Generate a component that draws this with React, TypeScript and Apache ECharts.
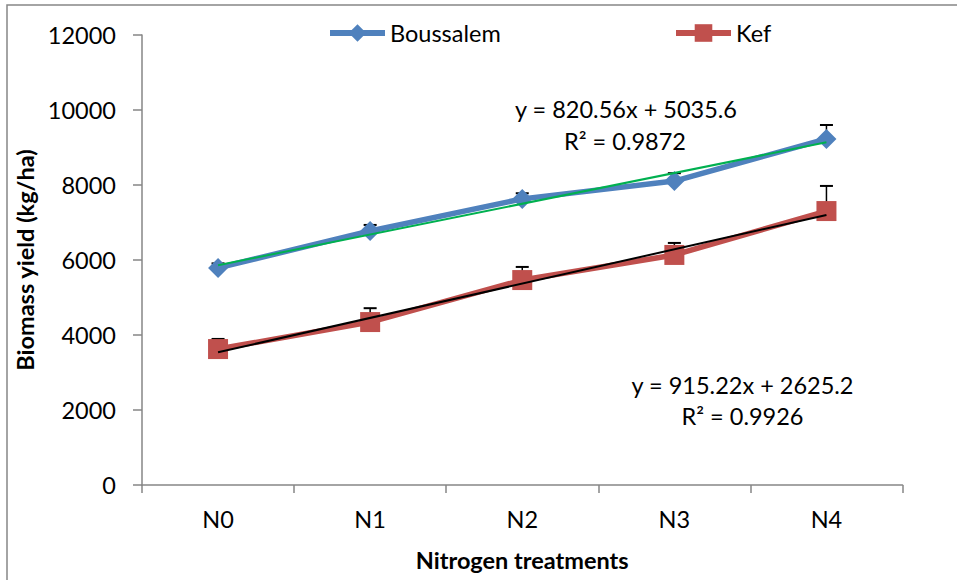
import React, { useEffect, useRef } from "react";
import * as echarts from "echarts";

const categories = ["N0", "N1", "N2", "N3", "N4"];
const boussalem = [5790, 6775, 7630, 8105, 9230];
const boussalemErr = [120, 160, 150, 210, 370];
const kef = [3625, 4345, 5465, 6135, 7305];
const kefErr = [270, 370, 350, 320, 670];
const boussalemTrend = [5860, null, null, null, 9140];
const kefTrend = [3540, null, null, null, 7200];
const yTicks = { min: 0, max: 12000, interval: 2000 };
const eq1 = ["y = 820.56x + 5035.6", "R² = 0.9872"];
const eq2 = ["y = 915.22x + 2625.2", "R² = 0.9926"];

const FONT = "Lato, 'Open Sans', sans-serif";
const FS = 23.5;
const BLUE = "#4F81BD";
const RED = "#C0504D";
const GREEN = "#00B050";
const AXIS = "#868686";

function errorSeries(values: number[], errs: number[]) {
  return {
    type: "custom",
    z: 1,
    silent: true,
    data: values.map((v, i) => [i, v, v + errs[i]]),
    renderItem: (params: any, api: any) => {
      const lo = api.coord([api.value(0), api.value(1)]);
      const hi = api.coord([api.value(0), api.value(2)]);
      const half = 6.5;
      return {
        type: "group",
        children: [
          { type: "line", shape: { x1: lo[0], y1: lo[1], x2: hi[0], y2: hi[1] }, style: { stroke: "#000", lineWidth: 1.5 } },
          { type: "line", shape: { x1: hi[0] - half, y1: hi[1], x2: hi[0] + half, y2: hi[1] }, style: { stroke: "#000", lineWidth: 2 } },
        ],
      };
    },
  };
}

export default function App() {
  const ref = useRef<HTMLDivElement>(null);
  useEffect(() => {
    document.body.style.margin = "0";
    const chart = echarts.init(ref.current!, null, { renderer: "svg" });
    const textStyle = { fontFamily: FONT, fontSize: FS, color: "#000" };
    const legendCommon = {
      top: 16, itemWidth: 55, itemHeight: 22, itemGap: 5,
      lineStyle: { width: 6 },
      textStyle: { ...textStyle, padding: [0, 0, 0, 0] },
    };
    chart.setOption({
      animation: false,
      textStyle: { fontFamily: FONT },
      grid: { left: 142, right: 54.5, top: 35, bottom: 95 },
      legend: [
        { ...legendCommon, data: ["Boussalem"], left: 322 },
        { ...legendCommon, data: ["Kef"], left: 668 },
      ],
      xAxis: {
        type: "category",
        data: categories,
        boundaryGap: true,
        name: "Nitrogen treatments",
        nameLocation: "middle",
        nameGap: 63,
        nameTextStyle: { ...textStyle, fontWeight: "bold" },
        axisLine: { lineStyle: { color: AXIS, width: 1.5 } },
        axisTick: { show: true, length: 8, lineStyle: { color: AXIS, width: 1.5 } },
        axisLabel: { ...textStyle, margin: 22 },
        splitLine: { show: false },
      },
      yAxis: {
        type: "value",
        min: yTicks.min,
        max: yTicks.max,
        interval: yTicks.interval,
        name: "Biomass yield (kg/ha)",
        nameLocation: "middle",
        nameGap: 96,
        nameTextStyle: { ...textStyle, fontWeight: "bold" },
        axisLine: { show: true, lineStyle: { color: AXIS, width: 1.5 } },
        axisTick: { show: true, length: 9, lineStyle: { color: AXIS, width: 1.5 } },
        axisLabel: { ...textStyle, margin: 26, formatter: (v: number) => String(v) },
        splitLine: { show: false },
      },
      graphic: [
        {
          type: "rect", silent: true, z: -10,
          shape: { x: 7, y: 5, width: 1000, height: 1000 },
          style: { fill: "none", stroke: AXIS, lineWidth: 1.5 },
        },
        { type: "text", x: 626, y: 109, style: { text: eq1[0], font: `${FS}px ${FONT}`, fill: "#000", textAlign: "center", textVerticalAlign: "middle" } },
        { type: "text", x: 625, y: 141, style: { text: eq1[1], font: `${FS}px ${FONT}`, fill: "#000", textAlign: "center", textVerticalAlign: "middle" } },
        { type: "text", x: 742.5, y: 385, style: { text: eq2[0], font: `${FS}px ${FONT}`, fill: "#000", textAlign: "center", textVerticalAlign: "middle" } },
        { type: "text", x: 742.5, y: 416, style: { text: eq2[1], font: `${FS}px ${FONT}`, fill: "#000", textAlign: "center", textVerticalAlign: "middle" } },
      ],
      series: [
        errorSeries(boussalem, boussalemErr),
        errorSeries(kef, kefErr),
        {
          name: "Boussalem", type: "line", data: boussalem, z: 2,
          symbol: "diamond", symbolSize: [20, 20],
          lineStyle: { color: BLUE, width: 5.5 },
          itemStyle: { color: BLUE },
        },
        {
          name: "Kef", type: "line", data: kef, z: 2,
          symbol: "rect", symbolSize: 20,
          lineStyle: { color: RED, width: 5.5 },
          itemStyle: { color: RED },
        },
        {
          name: "Boussalem trend", type: "line", data: boussalemTrend, z: 3,
          connectNulls: true, symbol: "none",
          lineStyle: { color: GREEN, width: 2 },
        },
        {
          name: "Kef trend", type: "line", data: kefTrend, z: 3,
          connectNulls: true, symbol: "none",
          lineStyle: { color: "#000", width: 2 },
        },
      ],
    });
    return () => chart.dispose();
  }, []);
  return <div ref={ref} style={{ width: 957, height: 580 }} />;
}
